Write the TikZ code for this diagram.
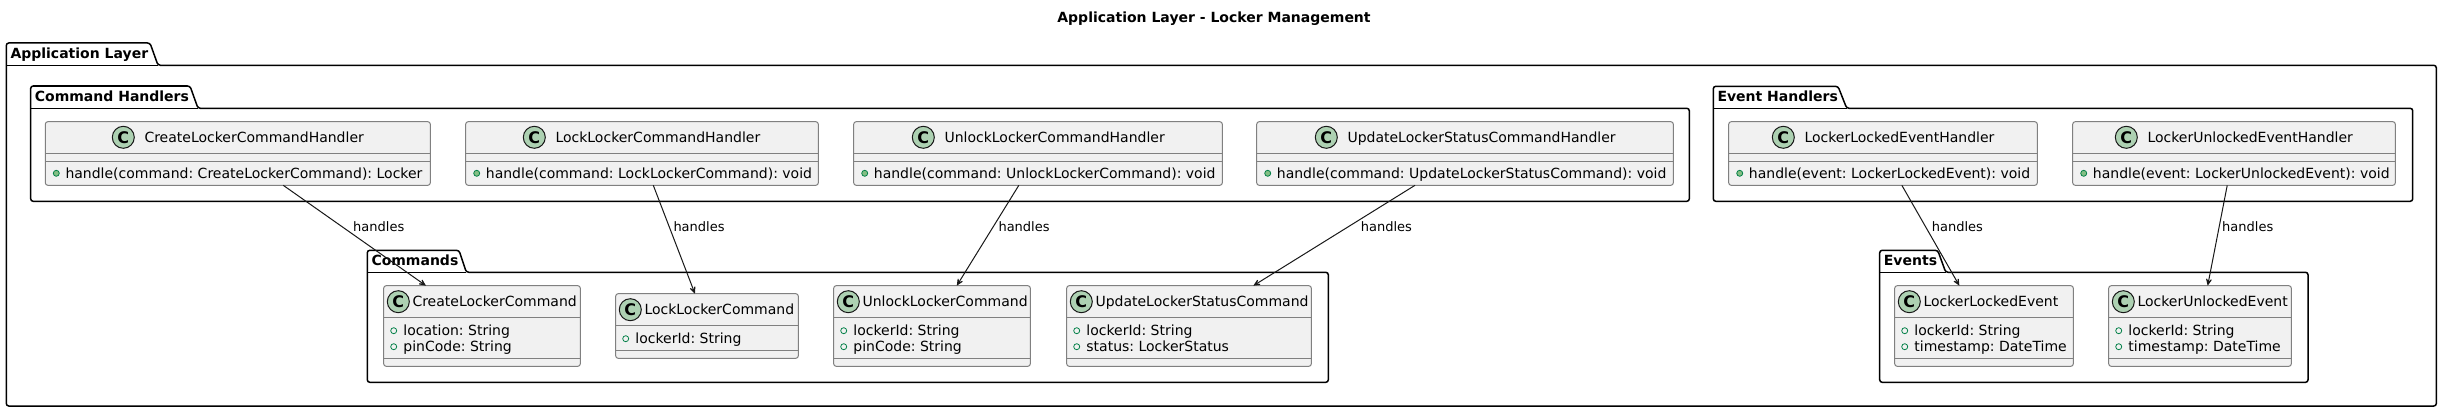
\documentclass[tikz,border=0pt]{standalone}
\usepackage{fontspec}
\setmainfont{DejaVu Sans}
\usetikzlibrary{arrows.meta,calc}
\definecolor{boxfill}{HTML}{F1F1F1}
\definecolor{boxline}{HTML}{808080}
\definecolor{circfill}{HTML}{ADD1B2}
\definecolor{darkline}{HTML}{181818}
\definecolor{visline}{HTML}{038048}
\definecolor{visfill}{HTML}{84BE84}
\newcommand\fsz[1]{\fontsize{#1}{#1}\selectfont}
\tikzset{
  classbox/.style={draw=boxline, fill=boxfill, line width=1pt, rounded corners=2.5pt, inner sep=0pt, outer sep=0pt},
  divline/.style={draw=boxline, line width=1pt},
  pkgline/.style={draw=black, line width=1.5pt, rounded corners=2.5pt},
  pkglabel/.style={font=\fsz{14}\bfseries, anchor=base west, inner sep=0pt},
  cname/.style={font=\fsz{14}, anchor=base west, inner sep=0pt},
  member/.style={font=\fsz{14}, anchor=base west, inner sep=0pt},
  ccircle/.style={circle, draw=darkline, fill=circfill, line width=1pt, minimum size=22pt, inner sep=0pt, font=\fsz{16}\bfseries},
  pubm/.style={circle, draw=visline, fill=visfill, minimum size=6pt, inner sep=0pt, line width=0.8pt},
  puba/.style={circle, draw=visline, fill=boxfill, minimum size=6pt, inner sep=0pt, line width=0.8pt},
  handarrow/.style={draw=darkline, line width=1pt, -{Stealth[length=11pt,width=10pt,inset=7pt]}},
  elabel/.style={font=\fsz{13}, anchor=base west, inner sep=0pt},
  titletext/.style={font=\fsz{14}\bfseries, anchor=base, inner sep=0pt}
}
% handler class: id, left, right, circle x, name, method
\newcommand\handlerclass[6]{%
  \node[classbox, minimum width={(#3-#2)*1pt}, minimum height=63.6pt] (#1) at ({(#2+#3)/2},153.5) {};
  \draw[divline] (#2,153.7) -- (#3,153.7);
  \draw[divline] (#2,161.7) -- (#3,161.7);
  \node[ccircle] (#1c) at (#4,137.3) {C};
  \node[cname] (#1n) at (#4+21,142.4) {#5};
  \node[pubm] (#1v) at (#2+11,173.3) {};
  \node[member] (#1m) at (#2+20,178.4) {#6};
}
% data class: id, left, right, top, bottom, div1, div2, name
\newcommand\dataclass[8]{%
  \node[classbox, minimum width={(#3-#2)*1pt}, minimum height={(#5-#4)*1pt}] (#1) at ({(#2+#3)/2},{(#4+#5)/2}) {};
  \draw[divline] (#2,#6) -- (#3,#6);
  \draw[divline] (#2,#7) -- (#3,#7);
  \node[ccircle] (#1c) at (#2+14.6,#4+16) {C};
  \node[cname] (#1n) at (#2+28.6,#4+21.1) {#8};
}
% attribute: id, left, y centre, text
\newcommand\attrline[4]{%
  \node[puba] (#1v) at (#2+10,#3) {};
  \node[member] (#1t) at (#2+19.5,#3+5.1) {#4};
}
% package: id, L, tab top, tab right top, tab right bottom, body top, R, B, label
\newcommand\umlpkg[9]{%
  \draw[pkgline] (#2,#6) -- (#2,#3) -- (#4,#3) -- (#5,#6) -- (#7,#6) -- (#7,#8) -- (#2,#8) -- cycle;
  \draw[pkgline] (#2,#6) -- (#5,#6);
  \node[pkglabel] (#1) at (#2+4,{(#3+#6)/2+4.2}) {#9};
}
\begin{document}
\frenchspacing
\begin{tikzpicture}[x=1pt,y=-1pt]
\useasboundingbox (0,0) rectangle (2442,412);
\fill[white] (0,0) rectangle (2442,412);

\node[titletext] (title) at (1214,22.8) {Application Layer - Locker Management};

\umlpkg{pApp}{6.3}{43}{150}{158}{65.3}{2436.3}{406}{Application Layer}
\umlpkg{pCH}{30.7}{86}{190}{198}{108.3}{1689.3}{201.3}{Command Handlers}
\umlpkg{pCmd}{367.3}{250.3}{459}{466.3}{272.3}{1328.3}{382.3}{Commands}
\umlpkg{pEH}{1713.3}{86.3}{1838}{1846.7}{108.3}{2412.7}{201.3}{Event Handlers}
\umlpkg{pEv}{1879.7}{250.3}{1937.7}{1945.7}{272.3}{2308}{382.3}{Events}

\handlerclass{h1}{45.3}{430.3}{123.3}{CreateLockerCommandHandler}{handle(command: CreateLockerCommand): Locker}
\handlerclass{h2}{465.7}{818.3}{534.3}{LockLockerCommandHandler}{handle(command: LockLockerCommand): void}
\handlerclass{h3}{853.7}{1222.3}{923.3}{UnlockLockerCommandHandler}{handle(command: UnlockLockerCommand): void}
\handlerclass{h4}{1256.7}{1673.3}{1326.3}{UpdateLockerStatusCommandHandler}{handle(command: UpdateLockerStatusCommand): void}
\handlerclass{h5}{1728.7}{2037.3}{1783.3}{LockerLockedEventHandler}{handle(event: LockerLockedEvent): void}
\handlerclass{h6}{2072.7}{2395.3}{2126.3}{LockerUnlockedEventHandler}{handle(event: LockerUnlockedEvent): void}

\dataclass{c1}{383.7}{580.3}{285.7}{366.3}{317.7}{358.7}{CreateLockerCommand}
\attrline{c1a}{383.7}{330.7}{location: String}
\attrline{c1b}{383.7}{346.7}{pinCode: String}

\dataclass{c2}{615.7}{798.3}{293.7}{358.3}{325.7}{350.3}{LockLockerCommand}
\attrline{c2a}{615.7}{338.7}{lockerId: String}

\dataclass{c3}{833.7}{1030.3}{285.7}{366.3}{317.7}{358.7}{UnlockLockerCommand}
\attrline{c3a}{833.7}{330.7}{lockerId: String}
\attrline{c3b}{833.7}{346.7}{pinCode: String}

\dataclass{c4}{1066.7}{1311.3}{285.7}{366.3}{317.7}{358.7}{UpdateLockerStatusCommand}
\attrline{c4a}{1066.7}{330.7}{lockerId: String}
\attrline{c4b}{1066.7}{346.7}{status: LockerStatus}

\dataclass{e1}{1894.7}{2073.3}{285.7}{366.3}{317.7}{358.7}{LockerLockedEvent}
\attrline{e1a}{1894.7}{330.7}{lockerId: String}
\attrline{e1b}{1894.7}{346.7}{timestamp: DateTime}

\dataclass{e2}{2108.7}{2291.3}{285.7}{366.3}{317.7}{358.7}{LockerUnlockedEvent}
\attrline{e2a}{2108.7}{330.7}{lockerId: String}
\attrline{e2b}{2108.7}{346.7}{timestamp: DateTime}

\draw[handarrow] ($(h1.south west)!0.618!(h1.south east)$) -- ($(c1.north west)!0.215!(c1.north east)$);
\draw[handarrow] ($(h2.south west)!0.532!(h2.south east)$) -- ($(c2.north west)!0.434!(c2.north east)$);
\draw[handarrow] ($(h3.south west)!0.448!(h3.south east)$) -- ($(c3.north west)!0.626!(c3.north east)$);
\draw[handarrow] ($(h4.south west)!0.380!(h4.south east)$) -- ($(c4.north west)!0.763!(c4.north east)$);
\draw[handarrow] ($(h5.south west)!0.561!(h5.south east)$) -- ($(e1.north west)!0.362!(e1.north east)$);
\draw[handarrow] ($(h6.south west)!0.479!(h6.south east)$) -- ($(e2.north west)!0.542!(e2.north east)$);

\node[elabel] (l1) at (353,231.6) {handles};
\node[elabel] (l2) at (673.3,231.6) {handles};
\node[elabel] (l3) at (998.3,231.6) {handles};
\node[elabel] (l4) at (1360.7,231.6) {handles};
\node[elabel] (l5) at (1931.7,231.6) {handles};
\node[elabel] (l6) at (2222,231.6) {handles};
\end{tikzpicture}
\end{document}
